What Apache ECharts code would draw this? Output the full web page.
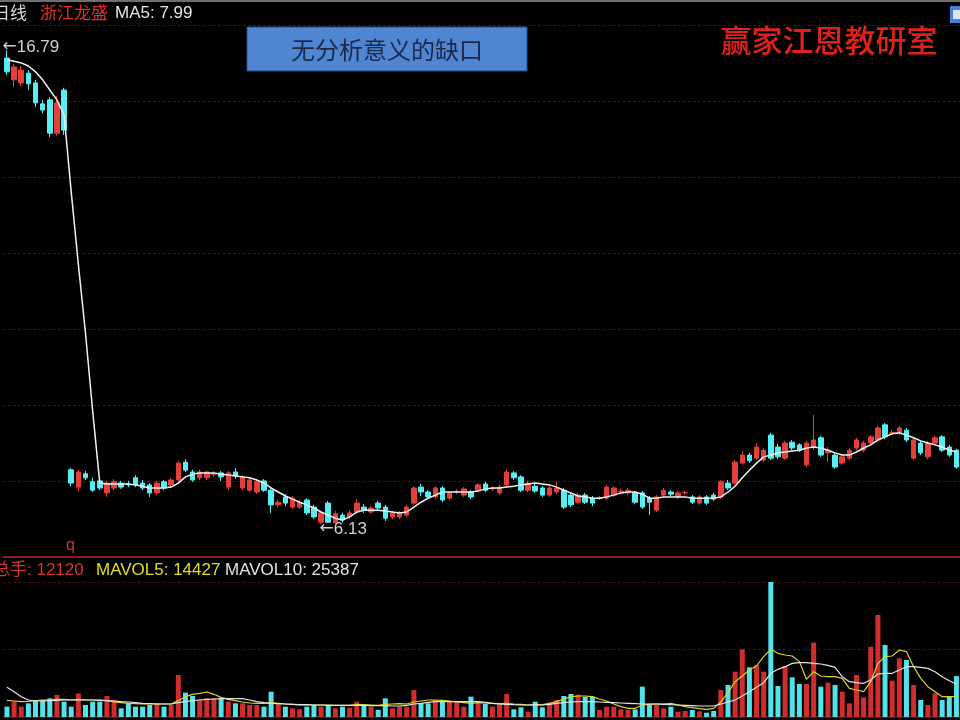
<!DOCTYPE html>
<html><head><meta charset="utf-8">
<script src="https://cdn.jsdelivr.net/npm/echarts@6/dist/echarts.min.js"></script>
<style>html,body{margin:0;padding:0;background:#000;}#c{width:960px;height:720px;}</style>
</head><body><div id="c"></div>
<script>
// ---- data ----
const open = [16.61,16.12,16.05,16.27,16.05,15.58,15.67,14.92,15.89,7.35, 6.96,7.26,7.08,7.10,6.83,6.94,7.05,7.03,7.17,7.05, 7.01,6.83,7.08,7.01,7.12,7.52,7.30,7.17,7.17,7.25, 7.28,6.96,7.30,6.94,6.89,6.85,7.10,6.89,6.56,6.74, 6.51,6.51,6.67,6.51,6.17,6.60,6.15,6.33,6.29,6.40, 6.51,6.40,6.60,6.51,6.29,6.29,6.33,6.60,6.96,6.85, 6.74,6.94,6.71,6.85,6.78,6.85,6.89,7.03,6.92,6.83, 7.01,7.28,7.19,6.89,6.98,6.94,6.78,6.85,6.89,6.78, 6.62,6.78,6.71,6.71,6.71,6.78,6.85,6.83,6.83,6.83, 6.71,6.44,6.78,6.85,6.74,6.83,6.74,6.60,6.74,6.78, 6.74,7.05,7.05,7.50,7.68,7.61,7.57,8.13,7.86,7.61, 7.97,7.91,7.46,7.86,8.07,7.73,7.68,7.50,7.61,7.84, 7.79,7.95,8.02,8.36,8.18,8.18,8.24,7.61,7.95,7.64, 7.95,8.09,7.86,7.79];
const close = [16.30,16.41,16.34,16.03,15.60,15.44,14.92,15.60,14.99,7.05, 7.30,7.17,6.89,6.94,7.05,7.08,6.96,7.01,7.01,6.94, 6.83,7.05,6.94,7.12,7.50,7.34,7.12,7.30,7.30,7.26, 7.19,7.28,7.21,7.19,7.12,7.08,6.89,6.56,6.62,6.60, 6.71,6.62,6.38,6.29,6.38,6.17,6.36,6.22,6.38,6.60, 6.44,6.49,6.49,6.26,6.38,6.38,6.51,6.94,6.85,6.74, 6.94,6.67,6.83,6.86,6.92,6.74,7.01,6.89,6.93,6.96, 7.30,7.17,6.89,7.05,6.87,6.78,6.94,6.94,6.51,6.56, 6.78,6.62,6.60,6.72,6.96,6.94,6.87,6.89,6.62,6.51, 6.62,6.74,6.89,6.80,6.83,6.84,6.62,6.74,6.60,6.69, 7.08,6.94,7.52,7.68,7.55,7.86,7.79,7.61,7.64,7.95, 7.84,7.79,7.95,8.02,7.68,7.79,7.41,7.64,7.79,8.02, 7.95,8.09,8.29,8.09,8.19,8.29,8.02,8.02,7.73,7.95, 8.07,7.79,7.68,7.41];
const low = [16.23,15.96,15.98,15.89,15.51,15.37,14.83,14.86,14.88,6.98, 6.87,7.12,6.85,6.89,6.74,6.89,6.92,6.96,6.96,6.89, 6.74,6.78,6.89,6.96,7.08,7.30,7.08,7.12,7.12,7.19, 7.10,6.89,7.14,6.89,6.85,6.81,6.85,6.38,6.51,6.53, 6.47,6.47,6.33,6.24,6.13,6.16,6.14,6.17,6.24,6.36, 6.38,6.36,6.44,6.20,6.24,6.24,6.29,6.56,6.76,6.69, 6.69,6.62,6.67,6.80,6.74,6.69,6.85,6.85,6.87,6.78, 6.96,7.12,6.85,6.85,6.83,6.74,6.74,6.80,6.47,6.51, 6.58,6.58,6.53,6.67,6.67,6.74,6.80,6.78,6.58,6.47, 6.33,6.40,6.74,6.76,6.69,6.78,6.58,6.56,6.56,6.65, 6.69,6.89,7.01,7.46,7.50,7.57,7.52,7.57,7.59,7.57, 7.79,7.75,7.41,7.79,7.64,7.52,7.37,7.46,7.57,7.79, 7.75,7.91,7.97,8.04,8.13,8.13,7.97,7.57,7.68,7.59, 7.91,7.75,7.64,7.37];
const high = [16.79,16.48,16.43,16.34,16.12,15.67,15.73,15.76,15.94,7.39, 7.35,7.32,7.17,7.19,7.10,7.14,7.10,7.10,7.23,7.12, 7.05,7.10,7.12,7.17,7.55,7.59,7.35,7.35,7.32,7.32, 7.32,7.32,7.39,7.23,7.17,7.12,7.14,6.94,6.67,6.80, 6.76,6.67,6.71,6.56,6.42,6.65,6.42,6.38,6.44,6.69, 6.58,6.53,6.65,6.56,6.42,6.42,6.56,6.98,7.03,6.89, 6.98,6.98,6.87,6.92,6.96,6.89,7.05,7.08,6.98,7.01, 7.35,7.32,7.23,7.10,7.03,6.98,6.98,7.08,6.94,6.83, 6.83,6.83,6.76,6.76,7.01,6.98,6.92,6.94,6.87,6.87, 6.76,6.78,6.94,6.89,6.87,6.89,6.78,6.78,6.78,6.83, 7.12,7.12,7.57,7.77,7.73,7.95,7.84,8.18,7.93,8.00, 8.02,7.95,8.00,8.58,8.11,7.86,7.73,7.68,7.84,8.07, 8.00,8.13,8.34,8.40,8.24,8.34,8.29,8.07,8.00,8.00, 8.11,8.13,7.91,7.82];
const ma5 = [16.57,16.54,16.50,16.43,16.30,16.12,15.89,15.67,15.33,13.60, 11.97,10.42,8.68,7.05,7.03,7.03,7.03,7.03,7.01,6.98, 6.94,6.94,6.94,6.96,7.05,7.19,7.25,7.28,7.28,7.28, 7.25,7.23,7.21,7.19,7.17,7.12,7.05,6.94,6.85,6.76, 6.69,6.62,6.56,6.49,6.40,6.33,6.26,6.22,6.29,6.40, 6.44,6.44,6.44,6.42,6.40,6.38,6.40,6.51,6.62,6.71, 6.78,6.85,6.85,6.85,6.85,6.85,6.87,6.92,6.94,6.94, 6.96,6.98,7.01,7.03,7.05,7.03,7.01,6.96,6.89,6.83, 6.76,6.74,6.71,6.71,6.74,6.78,6.83,6.85,6.85,6.80, 6.71,6.71,6.74,6.74,6.74,6.74,6.71,6.71,6.71,6.71, 6.74,6.85,6.98,7.17,7.34,7.50,7.64,7.68,7.73,7.75, 7.77,7.79,7.84,7.86,7.84,7.79,7.73,7.68,7.68,7.75, 7.84,7.91,8.02,8.09,8.16,8.18,8.13,8.07,8.00,7.95, 7.91,7.86,7.79,7.75];
const volume = [3060,4540,3060,4050,5040,5040,5530,6520,4540,3060, 7010,3550,4540,4540,6220,5040,2570,4050,3060,3060, 3550,4050,3060,3550,12450,7210,6220,5040,5530,5530, 5530,4540,4050,4050,3550,3550,3060,7500,4050,3060, 2570,2270,3060,3550,3060,3550,2570,3060,2780,4540, 3550,3060,2070,5530,2570,3060,3060,8000,4050,4050, 5040,5040,4540,4540,3060,6020,4050,3850,3060,4050, 6810,2270,2860,1580,4540,2860,4250,5040,6220,6810, 6620,6020,6020,2070,3060,3060,2270,2070,2270,8990, 3560,3560,2570,3060,1580,1780,2070,1680,1280,1780, 8000,9480,13430,20050,14720,15410,13430,40000,9190,15110, 11750,9780,9780,22020,8990,10170,9480,7510,4050,12440, 5830,20840,30220,21330,10760,17380,16890,9480,5040,3560, 7010,5040,6020,12120];
const mavol5 = [4940,4740,4540,4640,4840,5040,5040,5230,5230,5040, 5230,5040,5040,5040,4840,4440,4250,4050,3950,3850, 3850,3850,3850,3850,4840,6020,6720,7010,7410,6720, 5830,5230,4840,4440,4150,4050,4050,4250,4050,3850, 3750,3560,3560,3560,3560,3560,3460,3460,3460,3650, 3650,3560,3460,3750,3850,3950,3850,4440,4740,5040, 5040,4940,4740,4440,4250,4050,4250,4150,4050,3950, 4050,3850,3750,3560,3560,3650,4050,4540,5330,6020, 6220,6220,6020,5330,4740,3850,3060,2570,2570,3560, 3750,3850,3850,4050,3560,3060,2770,2470,2270,2570, 4540,7210,10470,12150,13930,15110,17880,20050,18870,18370, 18080,16400,11160,13430,12150,11950,11950,11460,8500,8000, 7510,10470,15900,17880,18080,19850,19360,14920,11460,8990, 7510,6020,6020,6020];
const mavol10 = [8790,7500,6020,5040,4740,4740,4840,4940,5040,5040, 5040,5040,5040,4940,4840,4740,4540,4440,4250,4050, 3950,3850,3850,3850,4250,4540,4840,5040,5230,5330, 5430,5430,5430,5430,5040,4540,4250,4050,3950,3850, 3750,3650,3650,3560,3560,3460,3460,3460,3460,3460, 3460,3360,3360,3360,3260,3260,3460,3850,4050,4350, 4540,4540,4540,4540,4540,4540,4540,4350,4050,3850, 3750,3650,3560,3560,3650,3560,3750,4050,4250,4440, 4540,4540,4540,4440,4350,4250,4150,4050,3950,3850, 3850,3850,3750,3650,3560,3460,3360,3260,3260,3260, 3850,4440,5040,6220,7510,8790,10170,12940,14120,14910, 15900,16100,16100,15900,15700,15310,14720,11950,10470,10170, 9980,10960,12740,12940,12940,13930,14910,14910,14720,14420, 13430,11950,10760,9780];
const headerTexts = ['日线', '浙江龙盛', 'MA5: 7.99'];
const volHeaderTexts = ['总手: 12120', 'MAVOL5: 14427', 'MAVOL10: 25387'];
const noteText = '无分析意义的缺口';
const brandText = '赢家江恩教研室';

// ---- build ----
const categories = open.map((_, i) => String(i + 1));
const kdata = open.map((o, i) => [o, close[i], low[i], high[i]]);
const UP = '#e53f3c', DOWN = '#55eef2';
const volData = volume.map((v, i) => ({ value: v, itemStyle: { color: close[i] >= open[i] ? '#cf2e2c' : '#52e2ea' } }));
const F = '"Liberation Sans","DejaVu Sans","Noto Sans CJK SC",sans-serif';
const CJK = '"Noto Sans CJK SC",sans-serif';
const gridLeft = 3.4, gridRight = -4.2;
const dashed = { show: true, lineStyle: { color: '#6f1616', type: [2, 3], width: 1 } };
const hiddenAxisParts = { axisTick: { show: false }, axisLabel: { show: false } };

const chart = echarts.init(document.getElementById('c'), null, { renderer: 'canvas' });
chart.setOption({
  backgroundColor: '#000',
  animation: false,
  grid: [
    { left: gridLeft, right: gridRight, top: 25, height: 532 },
    { left: gridLeft, right: gridRight, top: 582, height: 135 }
  ],
  xAxis: [
    { type: 'category', gridIndex: 0, data: categories, boundaryGap: true,
      axisLine: { show: true, onZero: false, lineStyle: { color: '#8c1d1d', width: 2 } }, ...hiddenAxisParts, splitLine: { show: false } },
    { type: 'category', gridIndex: 1, data: categories, boundaryGap: true,
      axisLine: { show: true, onZero: false, lineStyle: { color: '#5a1212', width: 2 } }, ...hiddenAxisParts, splitLine: { show: false } }
  ],
  yAxis: [
    { type: 'value', gridIndex: 0, min: 5.388, max: 17.353, show: false, splitLine: { show: false } },
    { type: 'value', gridIndex: 0, min: 0, max: 7, interval: 1, axisLine: { show: false }, ...hiddenAxisParts, splitLine: dashed },
    { type: 'value', gridIndex: 1, min: 0, max: 40000, interval: 20000, axisLine: { show: false }, ...hiddenAxisParts, splitLine: dashed }
  ],
  series: [
    { type: 'candlestick', xAxisIndex: 0, yAxisIndex: 0, data: kdata, barWidth: 5,
      itemStyle: { color: UP, color0: DOWN, borderColor: UP, borderColor0: DOWN, borderWidth: 1 },
      markPoint: {
        symbol: 'circle', symbolSize: 1, itemStyle: { color: 'rgba(0,0,0,0)' },
        label: { show: true, position: 'right', distance: 0, color: '#d0d0d0', fontSize: 17, fontFamily: F,
                 formatter: p => '{a|←}' + p.value,
                 rich: { a: { fontFamily: '"DejaVu Sans"', fontSize: 17, color: '#d0d0d0' } } },
        data: [
          { type: 'max', valueDim: 'highest', label: { offset: [-5, -3] } },
          { type: 'min', valueDim: 'lowest', label: { offset: [-2, 5] } }
        ]
      }
    },
    { type: 'line', xAxisIndex: 0, yAxisIndex: 0, data: ma5, symbol: 'none', lineStyle: { color: '#f2f2f2', width: 1.5 } },
    { type: 'bar', xAxisIndex: 1, yAxisIndex: 2, data: volData, barWidth: 5 },
    { type: 'line', xAxisIndex: 1, yAxisIndex: 2, data: mavol5, symbol: 'none', lineStyle: { color: '#dcd52a', width: 1.2 } },
    { type: 'line', xAxisIndex: 1, yAxisIndex: 2, data: mavol10, symbol: 'none', lineStyle: { color: '#e4e4e4', width: 1.2 } }
  ],
  graphic: [
    { type: 'rect', shape: { x: 0, y: 0, width: 960, height: 2 }, style: { fill: '#6e6e6e' } },
    { type: 'text', x: -7, y: 13, style: { text: headerTexts[0], fill: '#d8d8d8', font: '17px ' + CJK, verticalAlign: 'middle' } },
    { type: 'text', x: 40, y: 13, style: { text: headerTexts[1], fill: '#e0302e', font: '17px ' + CJK, verticalAlign: 'middle' } },
    { type: 'text', x: 115, y: 13, style: { text: headerTexts[2], fill: '#e6e6e6', font: '17px ' + F, verticalAlign: 'middle' } },
    { type: 'rect', shape: { x: 247, y: 27, width: 280, height: 44 }, style: { fill: '#4f86d1', stroke: '#2c4f86', lineWidth: 1 } },
    { type: 'text', x: 387, y: 50, style: { text: noteText, fill: '#1b2847', font: '24px ' + CJK, align: 'center', verticalAlign: 'middle' } },
    { type: 'text', x: 829, y: 40, style: { text: brandText, fill: '#e2201b', font: '500 31px ' + CJK, align: 'center', verticalAlign: 'middle' } },
    { type: 'rect', shape: { x: 950, y: 6, width: 12, height: 17 }, style: { fill: '#4a7fd8' } },
    { type: 'rect', shape: { x: 953, y: 10, width: 8, height: 9 }, style: { fill: '#dce6fb' } },
    { type: 'text', x: 66, y: 546, style: { text: 'q', fill: '#d23030', font: '16px ' + F, verticalAlign: 'middle' } },
    { type: 'text', x: -7, y: 570, style: { text: volHeaderTexts[0], fill: '#d83232', font: '17px ' + F + ',' + CJK, verticalAlign: 'middle' } },
    { type: 'text', x: 96, y: 570, style: { text: volHeaderTexts[1], fill: '#e4dc22', font: '17px ' + F, verticalAlign: 'middle' } },
    { type: 'text', x: 225, y: 570, style: { text: volHeaderTexts[2], fill: '#e2e2e2', font: '17px ' + F, verticalAlign: 'middle' } }
  ]
});
</script>
</body></html>
